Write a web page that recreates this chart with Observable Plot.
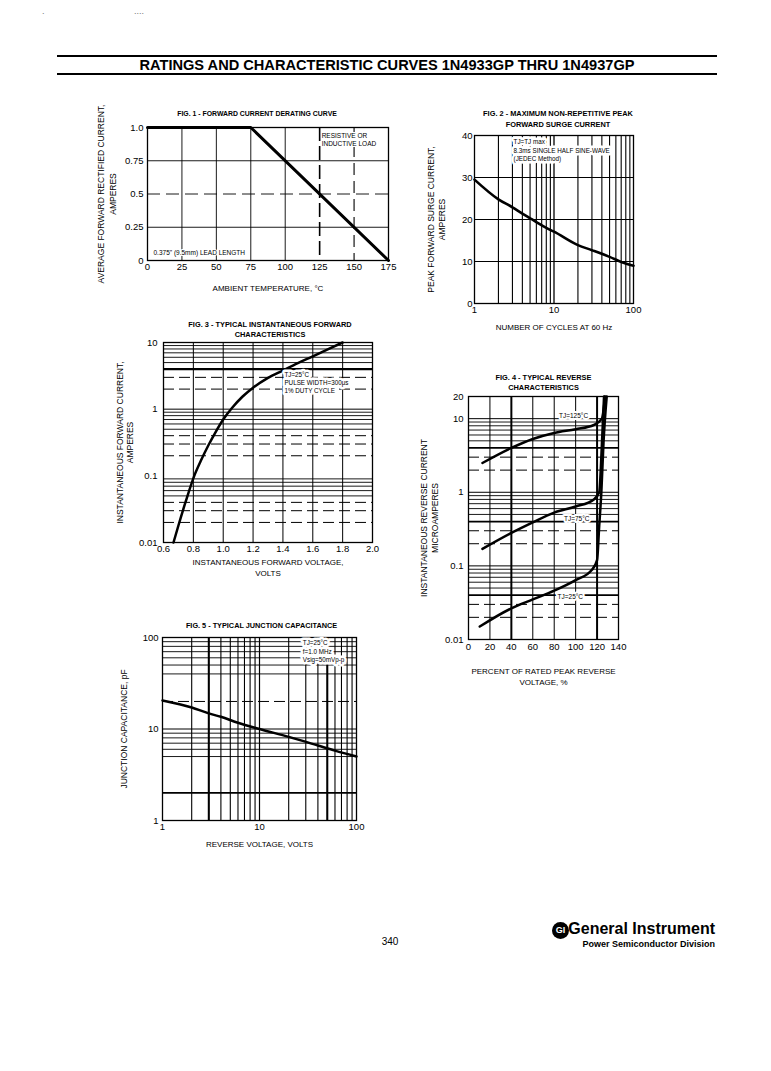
<!DOCTYPE html>
<html><head><meta charset="utf-8">
<script src="https://cdn.jsdelivr.net/npm/d3@7"></script>
<script src="https://cdn.jsdelivr.net/npm/@observablehq/plot@0.6"></script>
<style>
body{margin:0;background:#fff;}
#page{position:relative;width:771px;height:1071px;background:#fff;font-family:"Liberation Sans",Arial,sans-serif;color:#000;overflow:hidden;}
.abs{position:absolute;}
</style></head><body>
<div id="page">
  <div class="abs" style="left:42px;top:6px;font-size:9px;color:#777;">.</div>
  <div class="abs" style="left:134px;top:6px;font-size:9px;color:#777;">....</div>
  <div class="abs" style="left:57px;top:55px;width:660px;border-top:2px solid #000;"></div>
  <div class="abs" style="left:57px;top:57px;width:660px;height:16px;line-height:16px;text-align:center;font-weight:bold;font-size:14.6px;">RATINGS AND CHARACTERISTIC CURVES 1N4933GP THRU 1N4937GP</div>
  <div class="abs" style="left:57px;top:73px;width:660px;border-top:2.5px solid #000;"></div>
  <div class="abs" style="left:370px;top:936px;width:40px;text-align:center;font-size:10px;">340</div>
  <div class="abs" style="left:552px;top:922px;width:17px;height:17px;border-radius:50%;background:#000;color:#fff;font-weight:bold;font-size:9px;line-height:17px;text-align:center;">GI</div>
  <div class="abs" style="left:540px;top:920px;width:175px;text-align:right;font-family:'Liberation Sans Narrow','Liberation Sans',sans-serif;font-weight:bold;font-size:16px;line-height:18px;">General Instrument</div>
  <div class="abs" style="left:540px;top:939px;width:175px;text-align:right;font-family:'Liberation Sans Narrow','Liberation Sans',sans-serif;font-weight:bold;font-size:9px;line-height:11px;">Power Semiconductor Division</div>
</div>
<script>
// ---------------- DATA ----------------
// Fig. 1 - forward current derating
const fig1Temp = [0, 75, 175];
const fig1Current = [1.0, 1.0, 0];
const fig1XTicks = [0, 25, 50, 75, 100, 125, 150, 175];
const fig1YTicks = [0, 0.25, 0.5, 0.75, 1];
const fig1YLabels = ["0", "0.25", "0.5", "0.75", "1.0"];

// Fig. 2 - peak forward surge current
const fig2Cycles = [1, 2, 3, 4, 5, 6, 8, 10, 20, 30, 50, 70, 100];
const fig2Surge = [29.5, 24.8, 22.9, 21.4, 20.3, 19.4, 18.0, 17.1, 13.9, 12.7, 11.1, 9.9, 9.0];
const fig2XTicks = [1, 10, 100];
const fig2YTicks = [0, 10, 20, 30, 40];

// Fig. 3 - instantaneous forward characteristics
const fig3Volts = [0.667, 0.70, 0.75, 0.806, 0.85, 0.90, 0.95, 1.0, 1.06, 1.13, 1.2, 1.3, 1.4, 1.5, 1.6, 1.7, 1.8];
const fig3Amps = [0.01, 0.018, 0.042, 0.10, 0.168, 0.285, 0.458, 0.70, 1.05, 1.55, 2.1, 2.95, 3.8, 4.9, 6.2, 7.9, 10];
const fig3XTicks = [0.6, 0.8, 1.0, 1.2, 1.4, 1.6, 1.8, 2.0];
const fig3XLabels = ["0.6", "0.8", "1.0", "1.2", "1.4", "1.6", "1.8", "2.0"];
const fig3YTicks = [0.01, 0.1, 1, 10];
const fig3YLabels = ["0.01", "0.1", "1", "10"];

// Fig. 4 - reverse characteristics (percent of rated PRV, microamperes)
const fig4Pct125 = [13, 40, 60, 80, 100, 117, 124.5, 127.5];
const fig4Cur125 = [2.5, 4.0, 5.3, 6.4, 7.2, 8.2, 10, 20];
const fig4Pct75 = [13, 40, 60, 80, 100, 117, 122, 124.5, 126.5];
const fig4Cur75 = [0.17, 0.28, 0.39, 0.53, 0.64, 0.8, 1.0, 4.5, 20];
const fig4Pct25 = [10.5, 40, 60, 80, 100, 115, 120, 122, 124, 126, 129];
const fig4Cur25 = [0.015, 0.0265, 0.035, 0.046, 0.064, 0.088, 0.12, 0.35, 1.0, 4.7, 20];
const fig4XTicks = [0, 20, 40, 60, 80, 100, 120, 140];
const fig4YTicks = [0.01, 0.1, 1, 10, 20];
const fig4YLabels = ["0.01", "0.1", "1", "10", "20"];

// Fig. 5 - junction capacitance
const fig5Volts = [1, 2, 3, 4, 6, 10, 20, 40, 60, 100];
const fig5Cap = [20.5, 17.2, 14.8, 13.6, 11.7, 10, 8.2, 6.6, 5.8, 5.0];
const fig5XTicks = [1, 10, 100];
const fig5YTicks = [1, 10, 100];

// ---------------- HELPERS ----------------
const FONT = '"Liberation Sans", Arial, Helvetica, sans-serif';
const page = document.getElementById("page");
function place(svg, left, top) {
  const d = document.createElement("div");
  d.className = "abs"; d.style.left = left + "px"; d.style.top = top + "px";
  d.appendChild(svg); page.appendChild(d);
}
function logMinor(lo, hi, mult = [2, 3, 4, 5, 6, 7, 8, 9]) {
  const out = [];
  for (let e = lo; e < hi; e++) for (const m of mult) out.push(+(m * Math.pow(10, e)).toPrecision(6));
  return out;
}
function gridX(values, opts = {}) { return Plot.ruleX(values, {x: d => d, stroke: "#000", strokeWidth: 0.9, ...opts}); }
function gridY(values, opts = {}) { return Plot.ruleY(values, {y: d => d, stroke: "#000", strokeWidth: 0.9, ...opts}); }
function title(text, dx, dy, fontSize, lineHeight = 1.4) {
  return Plot.text([text], {text: d => d, frameAnchor: "top", textAnchor: "middle", lineAnchor: "middle", dx, dy, fontSize, fontWeight: "bold", lineHeight});
}
function ylabel(text, dx, fontSize, lineHeight = 1.35, dy = 0) {
  return Plot.text([text], {text: d => d, frameAnchor: "left", textAnchor: "middle", lineAnchor: "middle", rotate: -90, dx, dy, fontSize, lineHeight});
}
function xlabel(text, dy, fontSize, lineHeight = 1.35, dx = 0) {
  return Plot.text([text], {text: d => d, frameAnchor: "bottom", textAnchor: "middle", lineAnchor: "middle", dx, dy, fontSize, lineHeight});
}
function note(text, opts) {
  return Plot.text([text], {text: d => d, fontSize: 6.3, lineHeight: 1.3, stroke: "white", strokeWidth: 5, fill: "#000", ...opts});
}
const style = {fontFamily: FONT, fontSize: "9.5px", background: "transparent", color: "#000", overflow: "visible"};
const DASH = "11,5";

// ---------------- FIG 1 ----------------
place(Plot.plot({
  width: 310, height: 200, marginLeft: 57, marginRight: 12, marginTop: 27, marginBottom: 40, style,
  x: {domain: [0, 175], ticks: fig1XTicks, tickSize: 0, tickPadding: 3, label: null},
  y: {domain: [0, 1], ticks: fig1YTicks, tickFormat: d => fig1YLabels[fig1YTicks.indexOf(d)], tickSize: 0, tickPadding: 4, label: null},
  marks: [
    gridX([25, 50, 75, 100]),
    gridX([125], {strokeDasharray: "14,5", strokeWidth: 1.6}),
    gridX([150], {strokeDasharray: "12,6", strokeWidth: 1.1}),
    gridY([0.25, 0.75]),
    gridY([0.5], {strokeDasharray: "13,6"}),
    Plot.frame({stroke: "#000", strokeWidth: 1.3}),
    Plot.line(fig1Temp, {x: fig1Temp, y: fig1Current, stroke: "#000", strokeWidth: 3}),
    note("RESISTIVE OR\nINDUCTIVE LOAD", {x: 125, y: 1, dx: 2, dy: 4, textAnchor: "start", lineAnchor: "top", fontSize: 6.5, strokeWidth: 2}),
    note("0.375\" (9.5mm) LEAD LENGTH", {frameAnchor: "bottom-left", dx: 6, dy: -8, textAnchor: "start", lineAnchor: "middle", fontSize: 6.5, strokeWidth: 2}),
    title("FIG. 1 - FORWARD CURRENT DERATING CURVE", -11, -15, 6.9),
    ylabel("AVERAGE FORWARD RECTIFIED CURRENT,\nAMPERES", -41, 8.5, 1.4),
    xlabel("AMBIENT TEMPERATURE, °C", 27, 8)
  ]
}), 90, 100);

// ---------------- FIG 2 ----------------
place(Plot.plot({
  width: 230, height: 240, marginLeft: 54, marginRight: 17, marginTop: 35, marginBottom: 37, style,
  x: {type: "log", domain: [1, 100], ticks: fig2XTicks, tickFormat: d => String(d), tickSize: 0, tickPadding: 3, label: null},
  y: {domain: [0, 40], ticks: fig2YTicks, tickSize: 0, tickPadding: 2, label: null},
  marks: [
    gridX(logMinor(0, 2), {strokeWidth: 1.1}),
    gridX([10], {strokeWidth: 1.3}),
    gridY([10, 20, 30], {strokeWidth: 1.1}),
    Plot.frame({stroke: "#000", strokeWidth: 1.3}),
    Plot.line(fig2Cycles, {x: fig2Cycles, y: fig2Surge, curve: "monotone-x", stroke: "#000", strokeWidth: 2.6}),
    note("TJ=TJ max\n8.3ms SINGLE HALF SINE-WAVE\n(JEDEC Method)", {x: 3.1, y: 40, dy: 3, textAnchor: "start", lineAnchor: "top"}),
    title("FIG. 2 - MAXIMUM NON-REPETITIVE PEAK\nFORWARD SURGE CURRENT", 4, -17.5, 7.4, 1.45),
    ylabel("PEAK FORWARD SURGE CURRENT,\nAMPERES", -38.5, 8.5, 1.3),
    xlabel("NUMBER OF CYCLES AT 60 Hz", 23, 8)
  ]
}), 420, 100);

// ---------------- FIG 3 ----------------
place(Plot.plot({
  width: 270, height: 270, marginLeft: 53, marginRight: 8, marginTop: 32, marginBottom: 38, style,
  x: {domain: [0.6, 2.0], ticks: fig3XTicks, tickFormat: d => fig3XLabels[fig3XTicks.indexOf(d)], tickSize: 0, tickPadding: 3, label: null},
  y: {type: "log", domain: [0.01, 10], ticks: fig3YTicks, tickFormat: d => fig3YLabels[fig3YTicks.indexOf(d)], tickSize: 0, tickPadding: 6, label: null},
  marks: [
    gridX([0.8, 1.0, 1.2, 1.4, 1.6, 1.8], {strokeWidth: 1}),
    gridY(logMinor(-2, 1, [5, 6, 7, 8, 9]), {strokeWidth: 0.9}),
    gridY(logMinor(-2, 1, [2, 3, 4]), {strokeDasharray: DASH, strokeWidth: 1}),
    gridY([1], {strokeWidth: 1}),
    gridY([4], {strokeWidth: 2.2}),
    Plot.frame({stroke: "#000", strokeWidth: 1.3}),
    Plot.line(fig3Volts, {x: fig3Volts, y: fig3Amps, curve: "monotone-x", stroke: "#000", strokeWidth: 2.5}),
    note("TJ=25°C\nPULSE WIDTH=300μs\n1% DUTY CYCLE", {x: 1.41, y: 4, dy: 2, textAnchor: "start", lineAnchor: "top"}),
    title("FIG. 3 - TYPICAL INSTANTANEOUS FORWARD\nCHARACTERISTICS", 2, -14, 7.4, 1.35),
    ylabel("INSTANTANEOUS FORWARD CURRENT,\nAMPERES", -39, 8.5, 1.2),
    xlabel("INSTANTANEOUS FORWARD VOLTAGE,\nVOLTS", 24.5, 8, 1.35)
  ]
}), 110, 310);

// ---------------- FIG 4 ----------------
place(Plot.plot({
  width: 240, height: 330, marginLeft: 68, marginRight: 22, marginTop: 36, marginBottom: 51, style,
  x: {domain: [0, 140], ticks: fig4XTicks, tickSize: 0, tickPadding: 4, label: null},
  y: {type: "log", domain: [0.01, 20], ticks: fig4YTicks, tickFormat: d => fig4YLabels[fig4YTicks.indexOf(d)], tickSize: 0, tickPadding: 5, label: null},
  marks: [
    gridX([20, 60, 80, 100], {strokeWidth: 1}),
    gridX([40, 120], {strokeWidth: 2}),
    gridY(logMinor(-2, 1, [5, 6, 7, 8, 9]), {strokeWidth: 0.9}),
    gridY(logMinor(-2, 1, [2, 3]), {strokeDasharray: DASH, strokeWidth: 1}),
    gridY(logMinor(-2, 1, [4]), {strokeWidth: 1.8}),
    gridY([0.1, 1, 10], {strokeWidth: 1}),
    Plot.frame({stroke: "#000", strokeWidth: 1.3}),
    Plot.line(fig4Pct125, {x: fig4Pct125, y: fig4Cur125, curve: "monotone-x", stroke: "#000", strokeWidth: 2.5}),
    Plot.line(fig4Pct75, {x: fig4Pct75, y: fig4Cur75, curve: "monotone-x", stroke: "#000", strokeWidth: 2.5}),
    Plot.line(fig4Pct25, {x: fig4Pct25, y: fig4Cur25, curve: "monotone-x", stroke: "#000", strokeWidth: 2.5}),
    note("TJ=125°C", {x: 98, y: 10, dy: -3, textAnchor: "middle", lineAnchor: "middle", fontSize: 6.5, strokeWidth: 4}),
    note("TJ=75°C", {x: 101, y: 0.45, textAnchor: "middle", lineAnchor: "middle", fontSize: 6.5, strokeWidth: 4}),
    note("TJ=25°C", {x: 95, y: 0.039, textAnchor: "middle", lineAnchor: "middle", fontSize: 6.5, strokeWidth: 4}),
    title("FIG. 4 - TYPICAL REVERSE\nCHARACTERISTICS", 0, -14.5, 7.4, 1.3),
    ylabel("INSTANTANEOUS REVERSE CURRENT\nMICROAMPERES", -39.5, 8.5, 1.3),
    xlabel("PERCENT OF RATED PEAK REVERSE\nVOLTAGE, %", 36.5, 8, 1.35)
  ]
}), 400, 360);

// ---------------- FIG 5 ----------------
place(Plot.plot({
  width: 260, height: 240, marginLeft: 52, marginRight: 14, marginTop: 27, marginBottom: 30, style,
  x: {type: "log", domain: [1, 100], ticks: fig5XTicks, tickFormat: d => String(d), tickSize: 0, tickPadding: 3, label: null},
  y: {type: "log", domain: [1, 100], ticks: fig5YTicks, tickFormat: d => String(d), tickSize: 0, tickPadding: 4, label: null},
  marks: [
    gridX(logMinor(0, 2), {strokeWidth: 1.1}),
    gridX([3, 50], {strokeWidth: 2}),
    gridX([10], {strokeWidth: 1.2}),
    gridY(logMinor(0, 2, [5, 6, 7, 8, 9]), {strokeWidth: 0.9}),
    gridY([40], {strokeWidth: 0.9}),
    gridY([20], {strokeDasharray: DASH, strokeWidth: 1}),
    gridY([2], {strokeWidth: 1.8}),
    gridY([10], {strokeWidth: 1}),
    Plot.frame({stroke: "#000", strokeWidth: 1.3}),
    Plot.line(fig5Volts, {x: fig5Volts, y: fig5Cap, curve: "monotone-x", stroke: "#000", strokeWidth: 2.5}),
    note("TJ=25°C\nf=1.0 MHz\nVsig=50mVp-p", {x: 28, y: 100, dy: 2, textAnchor: "start", lineAnchor: "top"}),
    title("FIG. 5 - TYPICAL JUNCTION CAPACITANCE", 2, -13, 7.3),
    ylabel("JUNCTION CAPACITANCE, pF", -39, 8.5),
    xlabel("REVERSE VOLTAGE, VOLTS", 23, 8)
  ]
}), 110, 610);
</script>
</body></html>
